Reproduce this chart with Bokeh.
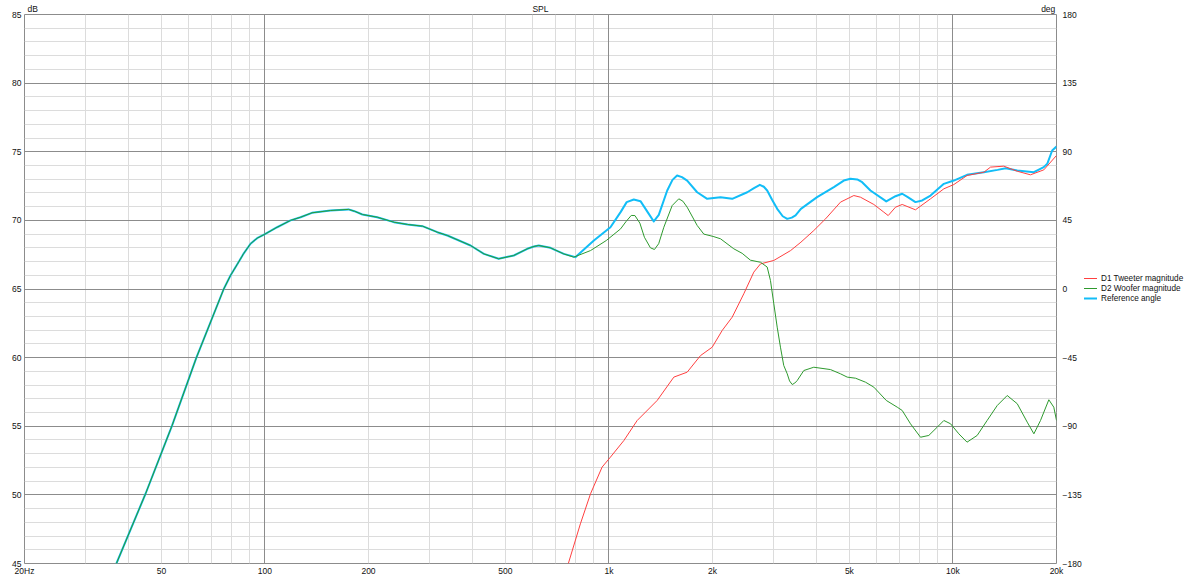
from bokeh.plotting import figure
from bokeh.layouts import row
from bokeh.models import (Range1d, LinearAxis, LogAxis, FixedTicker, Grid, Legend, LegendItem)
from bokeh.embed import file_html
from bokeh.resources import INLINE

FONT = "Liberation Sans"
FS = "8.5px"

# ---------------- data ----------------
woofer_freq = [37, 45, 53.7, 63.2, 75.9, 79.4, 83.1, 86.8, 90.8, 94.9, 100, 108.5, 118.7, 126.9,
               137, 155, 175, 182, 192, 212, 237, 260, 287, 317, 339, 396, 433, 478, 529, 579,
               605, 625, 676, 739, 790, 884, 982, 1081, 1120, 1161, 1190, 1230, 1268, 1320,
               1356, 1395, 1444, 1527, 1596, 1640, 1688, 1805, 1887, 2008, 2110, 2306, 2439,
               2578, 2695, 2758, 2884, 2948, 3015, 3084, 3152, 3222, 3298, 3350, 3410, 3470,
               3526, 3685, 3940, 4406, 4712, 4928, 5210, 5570, 5888, 6400, 6888, 7120, 7526,
               8048, 8508, 8998, 9410, 9840, 10400, 10990, 11760, 12570, 13450, 14380, 15380,
               16440, 17190, 17970, 19000, 19640, 20000]
woofer_db = [45.0, 50.1, 55.05, 60.0, 65.0, 65.98, 66.8, 67.6, 68.3, 68.7, 69.0, 69.5, 70.0,
             70.23, 70.55, 70.72, 70.8, 70.67, 70.43, 70.23, 69.87, 69.7, 69.58, 69.14, 68.9,
             68.17, 67.56, 67.2, 67.44, 67.93, 68.1, 68.17, 68.0, 67.56, 67.32, 67.8, 68.53,
             69.38, 69.9, 70.36, 70.35, 69.8, 68.77, 68.0, 67.88, 68.3, 69.5, 71.08, 71.57, 71.4,
             70.96, 69.63, 69.0, 68.83, 68.66, 67.93, 67.6, 67.1, 67.0, 66.95, 66.6, 65.62,
             63.92, 62.22, 60.76, 59.43, 58.82, 58.3, 58.04, 58.15, 58.33, 59.06, 59.3, 59.13,
             58.82, 58.58, 58.5, 58.21, 57.85, 56.88, 56.39, 56.15, 55.18, 54.2, 54.33, 54.93,
             55.42, 55.18, 54.45, 53.84, 54.33, 55.42, 56.51, 57.24, 56.64, 55.3, 54.45, 55.42,
             56.93, 56.39, 55.42]

tweeter_freq = [762, 826, 884, 955, 1010, 1105, 1208, 1381, 1544, 1688, 1846, 1996, 2134, 2282,
                2466, 2637, 2758, 3015, 3373, 3614, 3940, 4262, 4712, 5151, 5384, 5888, 6296,
                6483, 6808, 7120, 7780, 8606, 9410, 10058, 10990, 12300, 12860, 14060, 15380,
                16800, 18370, 20000]
tweeter_db = [45.0, 47.89, 50.08, 52.02, 52.75, 53.96, 55.42, 56.88, 58.58, 58.94, 60.15, 60.76,
              61.98, 62.95, 64.65, 66.23, 66.83, 67.08, 67.8, 68.41, 69.26, 70.11, 71.33, 71.81,
              71.69, 71.16, 70.6, 70.35, 70.96, 71.16, 70.77, 71.57, 72.3, 72.61, 73.27, 73.51,
              73.88, 73.95, 73.58, 73.32, 73.68, 74.73]

ref_freq = [37, 45, 53.7, 63.2, 75.9, 79.4, 83.1, 86.8, 90.8, 94.9, 100, 108.5, 118.7, 126.9,
            137, 155, 175, 182, 192, 212, 237, 260, 287, 317, 339, 396, 433, 478, 529, 579, 605,
            625, 676, 739, 799, 904, 1010, 1081, 1126, 1181, 1235, 1300, 1350, 1396, 1477, 1530,
            1578, 1630, 1688, 1805, 1930, 2110, 2282, 2524, 2640, 2746, 2820, 2884, 2980, 3084,
            3200, 3298, 3400, 3487, 3614, 4028, 4506, 4816, 5036, 5270, 5446, 5756, 6400, 6808,
            7120, 7392, 7780, 8140, 8606, 9410, 10058, 10990, 12300, 13480, 14240, 15380, 17190,
            18370, 18800, 19430, 20000]
ref_db = [45.0, 50.1, 55.05, 60.0, 65.0, 65.98, 66.8, 67.6, 68.3, 68.7, 69.0, 69.5, 70.0, 70.23,
          70.55, 70.72, 70.8, 70.67, 70.43, 70.23, 69.87, 69.7, 69.58, 69.14, 68.9, 68.17, 67.56,
          67.2, 67.44, 67.93, 68.1, 68.17, 68.0, 67.56, 67.32, 68.53, 69.5, 70.6, 71.33, 71.52,
          71.4, 70.55, 69.92, 70.4, 72.18, 72.95, 73.27, 73.15, 72.9, 72.05, 71.57, 71.69, 71.57,
          72.05, 72.35, 72.59, 72.45, 72.18, 71.5, 70.84, 70.3, 70.11, 70.2, 70.36, 70.84,
          71.69, 72.42, 72.9, 73.03, 72.98, 72.78, 72.18, 71.38, 71.76, 71.94, 71.69, 71.33,
          71.45, 71.81, 72.66, 72.9, 73.32, 73.51, 73.68, 73.8, 73.63, 73.51, 73.88, 74.12,
          75.09, 75.38]

series_names = ["D1 Tweeter magnitude", "D2 Woofer magnitude", "Reference angle"]
series_colors = ["#ff4040", "#2e9a2e", "#12bdf7"]
series_widths = [1, 1, 2]

x_ticks = [20, 50, 100, 200, 500, 1000, 2000, 5000, 10000, 20000]
x_tick_labels = ["20Hz", "50", "100", "200", "500", "1k", "2k", "5k", "10k", "20k"]
x_major_grid = [100, 1000, 10000]
x_minor_grid = [30, 40, 50, 60, 70, 80, 90, 200, 300, 400, 500, 600, 700, 800, 900,
                2000, 3000, 4000, 5000, 6000, 7000, 8000, 9000]
db_ticks = [45, 50, 55, 60, 65, 70, 75, 80, 85]
db_major_grid = [50, 55, 60, 65, 70, 75, 80]
db_minor_grid = [v for v in range(46, 85) if v % 5 != 0]
deg_ticks = [-180, -135, -90, -45, 0, 45, 90, 135, 180]

top_texts = ["dB", "SPL", "deg"]
top_text_frac = [0.008, 0.5, 0.992]          # horizontal position as a fraction of the frame
top_text_x = [20 * 1000 ** f for f in top_text_frac]

# ---------------- main figure ----------------
p = figure(x_axis_type="log", x_range=Range1d(20, 20000), y_range=Range1d(45, 85),
           frame_width=1032, frame_height=549, output_backend="svg", toolbar_location=None,
           min_border_left=24, min_border_top=14, min_border_right=26, min_border_bottom=12,
           background_fill_color="white", border_fill_color="white")

p.outline_line_color = "#8c8c8c"
p.outline_line_width = 1

p.xgrid.visible = False
p.ygrid.visible = False

for g in [Grid(dimension=0, ticker=FixedTicker(ticks=x_minor_grid), grid_line_color="#dcdcdc"),
          Grid(dimension=1, ticker=FixedTicker(ticks=db_minor_grid), grid_line_color="#dcdcdc"),
          Grid(dimension=0, ticker=FixedTicker(ticks=x_major_grid), grid_line_color="#8c8c8c"),
          Grid(dimension=1, ticker=FixedTicker(ticks=db_major_grid), grid_line_color="#8c8c8c")]:
    p.add_layout(g)


def style_axis(ax, standoff):
    ax.axis_line_color = None
    ax.major_tick_line_color = None
    ax.minor_tick_line_color = None
    ax.major_tick_in = 0
    ax.major_tick_out = 0
    ax.minor_tick_in = 0
    ax.minor_tick_out = 0
    ax.major_label_text_font = FONT
    ax.major_label_text_font_size = FS
    ax.major_label_text_color = "#111111"
    ax.major_label_standoff = standoff


xa = p.xaxis[0]
xa.ticker = FixedTicker(ticks=x_ticks)
xa.major_label_overrides = {t: s for t, s in zip(x_ticks, x_tick_labels)}
style_axis(xa, 2)

ya = p.yaxis[0]
ya.ticker = FixedTicker(ticks=db_ticks)
style_axis(ya, 3)

ta = LogAxis(ticker=FixedTicker(ticks=top_text_x),
             major_label_overrides={t: s for t, s in zip(top_text_x, top_texts)})
style_axis(ta, 1)
p.add_layout(ta, "above")

p.extra_y_ranges = {"deg": Range1d(-180, 180)}
ra = LinearAxis(y_range_name="deg", ticker=FixedTicker(ticks=deg_ticks))
style_axis(ra, 6)
p.add_layout(ra, "right")

# ---------------- curves ----------------
series_data = [(tweeter_freq, tweeter_db), (woofer_freq, woofer_db), (ref_freq, ref_db)]
for i in [2, 0, 1]:          # reference drawn first, woofer on top
    fx, fy = series_data[i]
    p.line(fx, fy, line_color=series_colors[i], line_width=series_widths[i], line_join="round")

# ---------------- legend panel (to the right of the chart) ----------------
# same series, in a narrow panel whose ranges keep the curves out of view:
# only its legend shows
lp = figure(width=108, height=577, x_range=Range1d(0, 1), y_range=Range1d(0, 1),
            output_backend="svg", toolbar_location=None,
            min_border_left=0, min_border_right=0, min_border_top=0, min_border_bottom=0,
            background_fill_color="white", border_fill_color="white")
lp.axis.visible = False
lp.grid.visible = False
lp.outline_line_color = None

items = []
for name, col, w, (fx, fy) in zip(series_names, series_colors, series_widths, series_data):
    r = lp.line(fx, fy, line_color=col, line_width=w)
    items.append(LegendItem(label=name, renderers=[r]))

legend = Legend(items=items, location=(-1, 259), margin=0, padding=0, spacing=0,
                glyph_width=14, glyph_height=10, label_height=10, label_standoff=4,
                label_text_font=FONT, label_text_font_size="8.2px", label_text_color="#111111",
                border_line_alpha=0, background_fill_alpha=0)
lp.add_layout(legend)

layout = row(p, lp, spacing=0)
open("out.html", "w").write(file_html(layout, INLINE))
